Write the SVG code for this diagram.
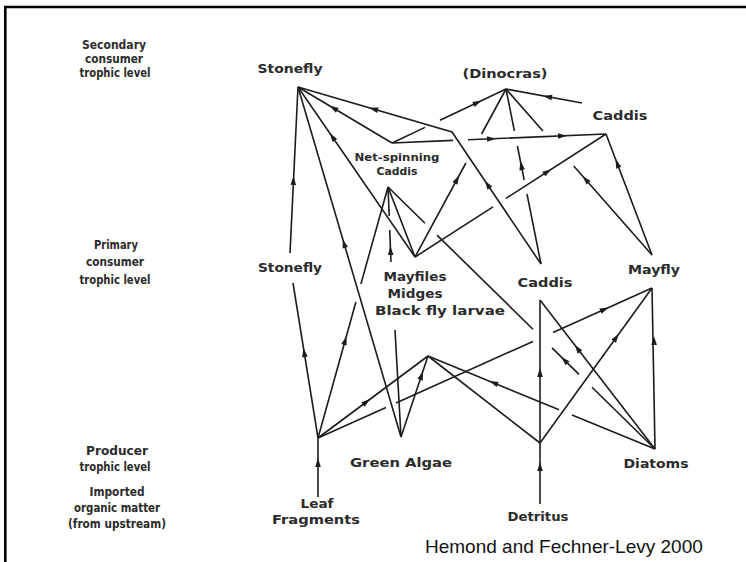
<svg xmlns="http://www.w3.org/2000/svg" xmlns:xlink="http://www.w3.org/1999/xlink" width="746" height="562" viewBox="0 0 746 562">
<style>
.t{font-family:"DejaVu Sans",sans-serif;font-weight:bold;font-size:12.5px;fill:#2b2b2b;text-anchor:middle}
.lv{font-size:12.5px}
.ns{font-size:11px}
.c path{stroke:#1c1c1c;stroke-width:1.6;fill:none}
.ah{fill:#1c1c1c}
.cite{font-family:"Liberation Sans",Arial,sans-serif;font-size:19px;fill:#111}
</style>
<defs>
<path id="ah" class="ah" d="M4,0 L-5,-2.8 L-5,2.8 Z"/>
</defs>
<rect width="746" height="562" fill="#fff"/>
<path d="M5.3,562 V7 H746" stroke="#000" stroke-width="2.6" fill="none"/>

<g id="levels">
<text class="t lv" x="114" y="49" textLength="64" lengthAdjust="spacingAndGlyphs">Secondary</text>
<text class="t lv" x="114" y="63" textLength="58" lengthAdjust="spacingAndGlyphs">consumer</text>
<text class="t lv" x="115" y="77" textLength="71" lengthAdjust="spacingAndGlyphs">trophic level</text>
<text class="t lv" x="116" y="249" textLength="44" lengthAdjust="spacingAndGlyphs">Primary</text>
<text class="t lv" x="115" y="266" textLength="58" lengthAdjust="spacingAndGlyphs">consumer</text>
<text class="t lv" x="115" y="284" textLength="71" lengthAdjust="spacingAndGlyphs">trophic level</text>
<text class="t lv" x="117" y="455" textLength="62" lengthAdjust="spacingAndGlyphs">Producer</text>
<text class="t lv" x="115" y="471" textLength="71" lengthAdjust="spacingAndGlyphs">trophic level</text>
<text class="t lv" x="117" y="496" textLength="55" lengthAdjust="spacingAndGlyphs">Imported</text>
<text class="t lv" x="117" y="512" textLength="86" lengthAdjust="spacingAndGlyphs">organic matter</text>
<text class="t lv" x="117" y="528" textLength="98" lengthAdjust="spacingAndGlyphs">(from upstream)</text>
</g>

<g id="connectors" class="c">
<path d="M318,438 L293,283"/>
<path d="M290,253 L298,87"/>
<path d="M318,438 L355.9,302 M360.9,284 L388,187"/>
<path d="M318,438 L428,356"/>
<path d="M318,438 L386,407.5 M396,403 L533,341.4 M553,332.5 L652,288"/>
<path d="M318,497 L318,438"/>
<path d="M401,437 L298,87"/>
<path d="M401,437 L395,330"/>
<path d="M401,437 L428,356"/>
<path d="M428,356 L559,409.7 M572,415 L655,449"/>
<path d="M540,443 L428,356"/>
<path d="M540,443 L540,300"/>
<path d="M540,443 L652,288"/>
<path d="M540,504 L540,443"/>
<path d="M655,449 L652,288"/>
<path d="M655,449 L540,300"/>
<path d="M388,187 L425,223.3 M437,235.1 L533,329.3 M552,347.9 L579,374.4 M592,387.2 L655,449"/>
<path d="M392,143 L298,87"/>
<path d="M392,143 L425,127.4 M440,120.3 L506,89"/>
<path d="M392,143 L453,140.4 M468,139.8 L606,134"/>
<path d="M415,257 L298,87"/>
<path d="M415,257 L388,187"/>
<path d="M391,262 L389.7,230 M389.2,216 L388,187"/>
<path d="M415,257 L465.9,163 M481.6,134 L506,89"/>
<path d="M415,257 L493,206.8 M506,198.4 L606,134"/>
<path d="M582,103 L506,89"/>
<path d="M541,264 L452,132 L298,87"/>
<path d="M506,89 L514.4,131 M517.4,146 L524.2,180 M527,194 L541,264"/>
<path d="M506,89 L542.9,131 M573.7,166 L652,255"/>
<path d="M652,255 L606,134"/>

<use xlink:href="#ah" transform="translate(304.1,352) rotate(-99.2)"/>
<use xlink:href="#ah" transform="translate(293.5,180) rotate(-87.2)"/>
<use xlink:href="#ah" transform="translate(345.3,340) rotate(-74.4)"/>
<use xlink:href="#ah" transform="translate(367,401.5) rotate(-36.7)"/>
<use xlink:href="#ah" transform="translate(605,309.1) rotate(-24.2)"/>
<use xlink:href="#ah" transform="translate(318,462) rotate(-90)"/>
<use xlink:href="#ah" transform="translate(343.9,243) rotate(-106.4)"/>
<use xlink:href="#ah" transform="translate(421.7,375) rotate(-71.6)"/>
<use xlink:href="#ah" transform="translate(493,382.6) rotate(-157.7)"/>
<use xlink:href="#ah" transform="translate(540,372) rotate(-90)"/>
<use xlink:href="#ah" transform="translate(616.6,337) rotate(-54.1)"/>
<use xlink:href="#ah" transform="translate(540,466) rotate(-90)"/>
<use xlink:href="#ah" transform="translate(654,340) rotate(-91.1)"/>
<use xlink:href="#ah" transform="translate(577,348) rotate(-127.7)"/>
<use xlink:href="#ah" transform="translate(564,359.7) rotate(-135.5)"/>
<use xlink:href="#ah" transform="translate(333,107.9) rotate(-149.2)"/>
<use xlink:href="#ah" transform="translate(478,102.3) rotate(-25.3)"/>
<use xlink:href="#ah" transform="translate(492,138.8) rotate(-2.4)"/>
<use xlink:href="#ah" transform="translate(563,135.8) rotate(-2.4)"/>
<use xlink:href="#ah" transform="translate(332,136.4) rotate(-124.5)"/>
<use xlink:href="#ah" transform="translate(390.5,250) rotate(-92.3)"/>
<use xlink:href="#ah" transform="translate(457.3,179) rotate(-61.6)"/>
<use xlink:href="#ah" transform="translate(548,171.3) rotate(-32.8)"/>
<use xlink:href="#ah" transform="translate(547,96.6) rotate(-169.6)"/>
<use xlink:href="#ah" transform="translate(373,108.9) rotate(-163.7)"/>
<use xlink:href="#ah" transform="translate(487.1,184) rotate(-124)"/>
<use xlink:href="#ah" transform="translate(521.2,165) rotate(-101.3)"/>
<use xlink:href="#ah" transform="translate(585.2,179) rotate(-131.3)"/>
<use xlink:href="#ah" transform="translate(617,163) rotate(-110.8)"/>
</g>

<g id="stonefly-secondary"><text class="t" x="290" y="73" textLength="65" lengthAdjust="spacingAndGlyphs">Stonefly</text></g>
<g id="dinocras"><text class="t" x="505" y="78" textLength="85" lengthAdjust="spacingAndGlyphs">(Dinocras)</text></g>
<g id="caddis-secondary"><text class="t" x="620" y="120" textLength="55" lengthAdjust="spacingAndGlyphs">Caddis</text></g>
<g id="net-spinning-caddis">
<text class="t ns" x="397" y="161" textLength="85" lengthAdjust="spacingAndGlyphs">Net-spinning</text>
<text class="t ns" x="397" y="175" textLength="41" lengthAdjust="spacingAndGlyphs">Caddis</text>
</g>
<g id="stonefly-primary"><text class="t" x="290" y="272" textLength="64" lengthAdjust="spacingAndGlyphs">Stonefly</text></g>
<g id="mayflies-midges-blackfly">
<text class="t" x="415" y="281" textLength="63" lengthAdjust="spacingAndGlyphs">Mayfiles</text>
<text class="t" x="415" y="298" textLength="55" lengthAdjust="spacingAndGlyphs">Midges</text>
<text class="t" x="440" y="315" textLength="130" lengthAdjust="spacingAndGlyphs">Black fly larvae</text>
</g>
<g id="caddis-primary"><text class="t" x="545" y="287" textLength="55" lengthAdjust="spacingAndGlyphs">Caddis</text></g>
<g id="mayfly"><text class="t" x="654" y="274" textLength="52" lengthAdjust="spacingAndGlyphs">Mayfly</text></g>
<g id="green-algae"><text class="t" x="401" y="467" textLength="102" lengthAdjust="spacingAndGlyphs">Green Algae</text></g>
<g id="diatoms"><text class="t" x="656" y="468" textLength="65" lengthAdjust="spacingAndGlyphs">Diatoms</text></g>
<g id="leaf-fragments">
<text class="t" x="317" y="508" textLength="33" lengthAdjust="spacingAndGlyphs">Leaf</text>
<text class="t" x="316" y="524" textLength="88" lengthAdjust="spacingAndGlyphs">Fragments</text>
</g>
<g id="detritus"><text class="t" x="538" y="521" textLength="61" lengthAdjust="spacingAndGlyphs">Detritus</text></g>

<text class="cite" x="425" y="553">Hemond and Fechner-Levy 2000</text>
</svg>
